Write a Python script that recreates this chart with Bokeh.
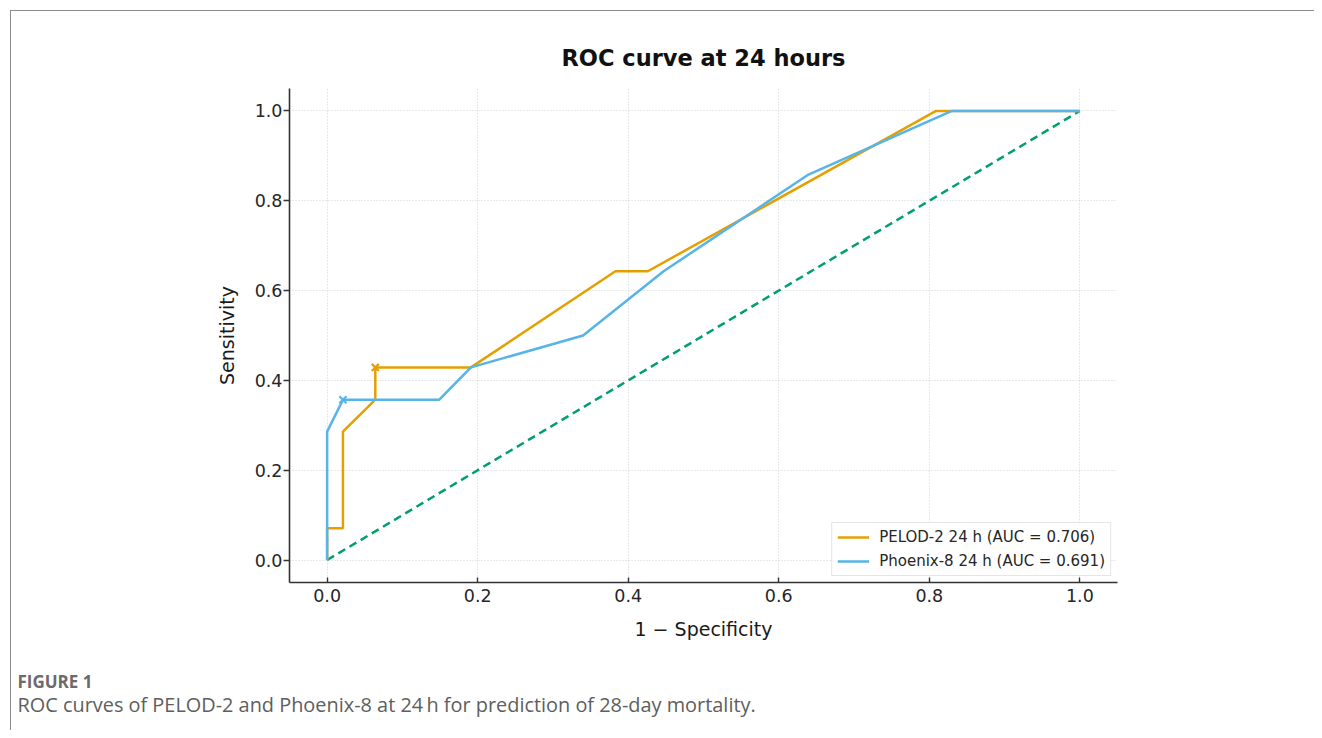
from bokeh.plotting import figure
from bokeh.models import Title, FixedTicker, NumeralTickFormatter, Range1d, Legend, LegendItem
from bokeh.embed import file_html
from bokeh.resources import INLINE

# ---- data ----
pelod_fpr = [0.0, 0.0, 0.021, 0.021, 0.064, 0.064, 0.191, 0.383, 0.426, 0.809, 1.0]
pelod_tpr = [0.0, 0.071, 0.071, 0.286, 0.357, 0.429, 0.429, 0.643, 0.643, 1.0, 1.0]
phoenix_fpr = [0.0, 0.0, 0.021, 0.149, 0.191, 0.340, 0.447, 0.638, 0.830, 1.0]
phoenix_tpr = [0.0, 0.286, 0.357, 0.357, 0.429, 0.500, 0.643, 0.857, 1.0, 1.0]
pelod_best_x = [0.064]
pelod_best_y = [0.429]
phoenix_best_x = [0.021]
phoenix_best_y = [0.357]
chance_x = [0.0, 1.0]
chance_y = [0.0, 1.0]
ticks = [0.0, 0.2, 0.4, 0.6, 0.8, 1.0]
pelod_label = "PELOD-2 24 h (AUC = 0.706)"
phoenix_label = "Phoenix-8 24 h (AUC = 0.691)"
title_text = "ROC curve at 24 hours"
fig_label = "FIGURE 1"
caption = "ROC curves of PELOD-2 and Phoenix-8 at 24\u2009h for prediction of 28-day mortality."

ORANGE = "#E69F00"
BLUE = "#56B4E9"
GREEN = "#009E73"
FONT = "DejaVu Sans"

FRAME_L, FRAME_T, FRAME_W, FRAME_H = 278, 77, 828, 494

p = figure(
    output_backend="svg", toolbar_location=None,
    frame_width=FRAME_W, frame_height=FRAME_H,
    min_border_left=FRAME_L, min_border_right=197,
    min_border_top=FRAME_T, min_border_bottom=148,
    x_range=Range1d(-0.05, 1.05), y_range=Range1d(-0.05, 1.05),
)
p.styles = {"margin-left": "10px", "margin-top": "10px",
            "border-top": "1px solid #8c8c8c", "border-left": "1px solid #8c8c8c"}
p.outline_line_color = None
p.background_fill_color = "white"
p.border_fill_color = "white"

p.title.text = title_text
p.title.align = "center"
p.title.offset = 3
p.title.standoff = 35
p.title.text_font = FONT
p.title.text_font_style = "bold"
p.title.text_font_size = "22.5px"
p.title.text_color = "#111111"

for ax in (p.xaxis[0], p.yaxis[0]):
    ax.ticker = FixedTicker(ticks=ticks)
    ax.formatter = NumeralTickFormatter(format="0.0")
    ax.axis_line_color = "#333333"
    ax.axis_line_width = 1.6
    ax.major_tick_line_color = "#333333"
    ax.major_tick_line_width = 1.4
    ax.minor_tick_line_color = None
    ax.major_label_text_font = FONT
    ax.major_label_text_font_size = "17.5px"
    ax.major_label_text_color = "#262626"
    ax.axis_label_text_font = FONT
    ax.axis_label_text_font_style = "normal"
    ax.axis_label_text_font_size = "19px"
    ax.axis_label_text_color = "#1a1a1a"

p.xaxis.major_tick_in = 5
p.xaxis.major_tick_out = 0
p.yaxis.major_tick_in = 0
p.yaxis.major_tick_out = 6
p.xaxis.axis_label = "1 \u2212 Specificity"
p.yaxis.axis_label = "Sensitivity"
p.xaxis.major_label_standoff = 6
p.yaxis.major_label_standoff = 1
p.xaxis.axis_label_standoff = 13
p.yaxis.axis_label_standoff = 14

for g in (p.xgrid[0], p.ygrid[0]):
    g.ticker = FixedTicker(ticks=ticks)
    g.grid_line_color = "#d0d0d0"
    g.grid_line_dash = "1 2"
    g.grid_line_width = 1

p.line(chance_x, chance_y, line_color=GREEN, line_width=2.5, line_dash="8 5")
r1 = p.line(pelod_fpr, pelod_tpr, line_color=ORANGE, line_width=2.5)
r2 = p.line(phoenix_fpr, phoenix_tpr, line_color=BLUE, line_width=2.5)
p.scatter(pelod_best_x, pelod_best_y, marker="x", size=10, line_color=ORANGE, line_width=2.2)
p.scatter(phoenix_best_x, phoenix_best_y, marker="x", size=10, line_color=BLUE, line_width=2.2)

legend = Legend(items=[LegendItem(label=pelod_label, renderers=[r1]),
                       LegendItem(label=phoenix_label, renderers=[r2])],
                location="bottom_right")
legend.label_text_font = FONT
legend.label_text_font_size = "15px"
legend.label_text_color = "#262626"
legend.glyph_width = 32
legend.glyph_height = 18
legend.label_height = 18
legend.label_standoff = 10
legend.spacing = 6
legend.padding = 5
legend.margin = 6
legend.border_line_color = "#cccccc"
legend.border_line_width = 1
legend.background_fill_alpha = 0.9
p.add_layout(legend)

# spacer panel between the x axis and the caption block
spacer = Title(text=" ", align="left", standoff=12, text_font_size="1px", text_color="white")
cap1 = Title(text=fig_label, align="left", offset=-(FRAME_L - 6), standoff=20,
             text_font="Open Sans", text_font_style="bold", text_font_size="17px",
             text_color="#6b6b6b")
cap2 = Title(text=caption, align="left", offset=-(FRAME_L - 6), standoff=-28,
             text_font="Open Sans", text_font_style="normal", text_font_size="19.9px",
             text_color="#5e5e5e")
p.add_layout(spacer, "below")
p.add_layout(cap1, "below")
p.add_layout(cap2, "below")

open("out.html", "w").write(file_html(p, INLINE))
